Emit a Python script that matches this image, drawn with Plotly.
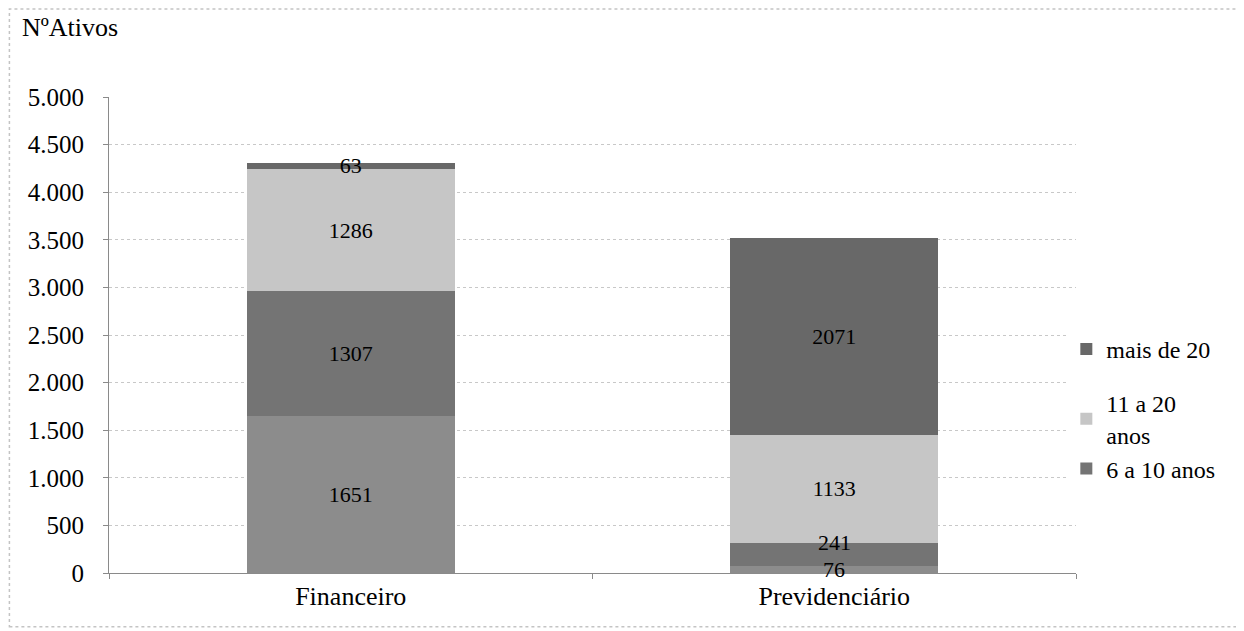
import plotly.graph_objects as go

categories = ["Financeiro", "Previdenciário"]
series_names = ["até 5 anos", "6 a 10 anos", "11 a 20<br>anos", "mais de 20"]
ate_5 = [1651, 76]
de_6_a_10 = [1307, 241]
de_11_a_20 = [1286, 1133]
mais_de_20 = [63, 2071]
y_ticks = [0, 500, 1000, 1500, 2000, 2500, 3000, 3500, 4000, 4500, 5000]

FONT = "Liberation Serif"
colors = ["#8c8c8c", "#747474", "#c6c6c6", "#686868"]
groups = ["b", "b", "b", "a"]
ranks = [4, 3, 2, 1]

fig = go.Figure()
for name, values, color, show, grp, rank in zip(
    series_names,
    [ate_5, de_6_a_10, de_11_a_20, mais_de_20],
    colors,
    [False, True, True, True],
    groups,
    ranks,
):
    labels = [str(v) for v in values]
    if values is de_6_a_10 or values is ate_5:
        # the two small Previdenciário labels are placed as annotations below
        labels[1] = ""
    fig.add_bar(
        x=categories,
        y=values,
        name=name,
        legendgroup=grp,
        legendrank=rank,
        marker={"color": color, "line": {"width": 0}},
        text=labels,
        textposition="inside",
        insidetextanchor="middle",
        textangle=0,
        constraintext="none",
        textfont={"family": FONT, "size": 22, "color": "black"},
        showlegend=show,
        width=0.43,
    )

# 241 sits on its segment's top edge, 76 in the middle of its thin segment
fig.add_annotation(
    text=str(de_6_a_10[1]),
    x=categories[1],
    y=ate_5[1] + de_6_a_10[1],
    yanchor="middle",
    showarrow=False,
    font={"family": FONT, "size": 22, "color": "black"},
)
fig.add_annotation(
    text=str(ate_5[1]),
    x=categories[1],
    y=ate_5[1] / 2,
    yanchor="middle",
    showarrow=False,
    font={"family": FONT, "size": 22, "color": "black"},
)

fig.add_annotation(
    text="NºAtivos",
    xref="paper",
    yref="paper",
    x=-0.0918,
    y=1.147,
    xanchor="left",
    yanchor="middle",
    showarrow=False,
    font={"family": FONT, "size": 26, "color": "black"},
)

# scanned page border
fig.add_shape(
    type="rect",
    xref="paper",
    yref="paper",
    x0=-0.103,
    x1=1.167,
    y0=-0.113,
    y1=1.185,
    line={"color": "#c4c4c4", "width": 1.5, "dash": "dot"},
)

(
    fig.update_xaxes(
        showline=True,
        linecolor="#8a8a8a",
        linewidth=1,
        ticks="outside",
        tickson="boundaries",
        ticklen=5,
        tickcolor="#8a8a8a",
        tickfont={"family": FONT, "size": 26, "color": "black"},
    )
    .update_yaxes(
        range=[0, 5000],
        tickvals=y_ticks,
        tickformat=",d",
        showline=True,
        linecolor="#8a8a8a",
        linewidth=1,
        ticks="outside",
        ticklen=5,
        tickcolor="#8a8a8a",
        ticklabelstandoff=14,
        gridcolor="#c8c8c8",
        griddash="dot",
        zeroline=False,
        tickfont={"family": FONT, "size": 25, "color": "black"},
    )
    .update_layout(
        width=1244,
        height=631,
        barmode="stack",
        separators=",.",
        plot_bgcolor="white",
        paper_bgcolor="white",
        margin={"l": 101, "r": 176, "t": 89, "b": 66},
        legend={
            "x": 0.99,
            "y": 0.345,
            "yanchor": "middle",
            "traceorder": "grouped",
            "tracegroupgap": 20,
            "font": {"family": FONT, "size": 24, "color": "black"},
            "itemwidth": 30,
        },
        font={"family": FONT},
    )
)

fig.write_html("out.html")
